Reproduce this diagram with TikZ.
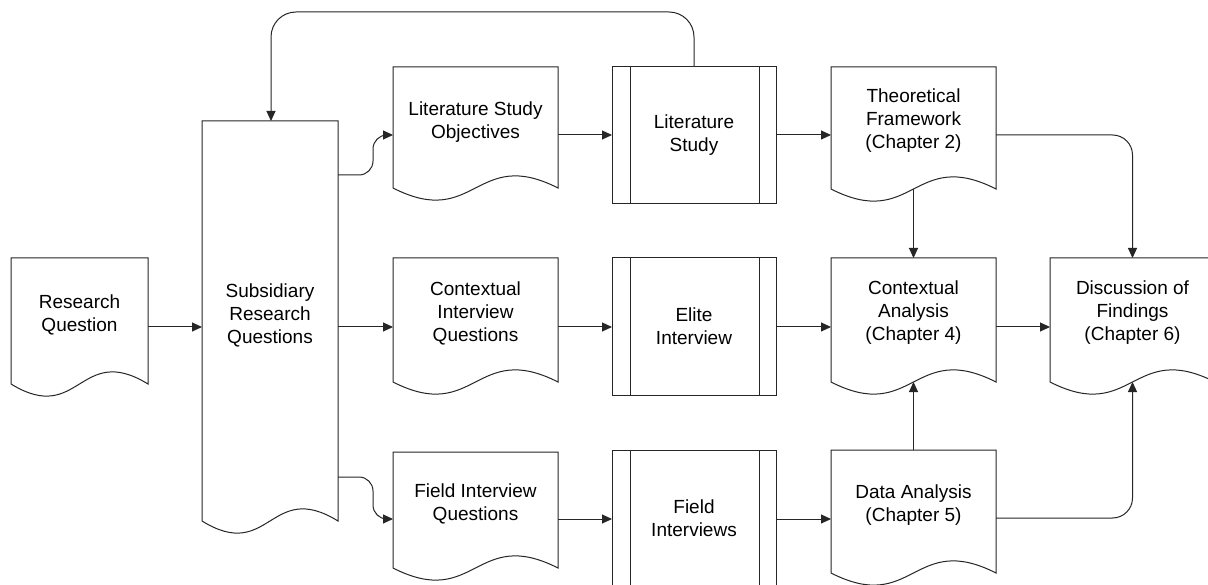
\documentclass[tikz,border=0pt]{standalone}
\usepackage{fontspec}
\setmainfont{Liberation Sans}
\usetikzlibrary{arrows.meta,calc}
\tikzset{
  ln/.style={draw=black!85, line width=1pt},
  arr/.style={ln, -{Triangle[length=10pt,width=9pt]}},
  frame/.style={draw=none, inner sep=0pt, outer sep=0pt, anchor=north west},
  txt/.style={align=center, font=\fontsize{19}{23}\selectfont, inner sep=0pt, text=black},
}
% #1 name, #2 x0, #3 y0, #4 x1, #5 y bottom of sides, #6 text centre y, #7 text
\newcommand\DocShape[7]{%
  \node[frame, minimum width={#4pt-#2pt}, minimum height={#5pt-#3pt}] (#1) at (#2,#3) {};
  \draw[ln] (#1.south west) -- (#1.north west) -- (#1.north east) -- (#1.south east)
    .. controls ($(#1.south)+(0,-42)$) and ($(#1.south)+(0,42)$) .. (#1.south west) -- cycle;
  \node[txt] (#1-t) at (#1.north |- 0,#6) {#7};
}
% #1 name, #2 x0, #3 y0, #4 x1, #5 y1, #6 text
\newcommand\ProcShape[6]{%
  \node[frame, minimum width={#4pt-#2pt}, minimum height={#5pt-#3pt}] (#1) at (#2,#3) {};
  \draw[ln] (#1.north west) rectangle (#1.south east);
  \draw[ln] ([xshift=18pt]#1.north west) -- ([xshift=18pt]#1.south west);
  \draw[ln] ([xshift=-17pt]#1.north east) -- ([xshift=-17pt]#1.south east);
  \node[txt] (#1-t) at (#1.center) {#6};
}
\begin{document}
\begin{tikzpicture}[x=1pt,y=-1pt]
\path[use as bounding box] (0,0) rectangle (1208,585);
\fill[white] (0,0) rectangle (1208,585);
\clip (0,0) rectangle (1208,585);

\DocShape{rq}{11}{258}{148}{384}{315}{Research\\Question}
\DocShape{sub}{202}{121}{338}{521}{315}{Subsidiary\\Research\\Questions}
\DocShape{lso}{393}{67}{558}{188}{122}{Literature Study\\Objectives}
\DocShape{ciq}{393}{258}{558}{382}{313}{Contextual\\Interview\\Questions}
\DocShape{fiq}{393}{452}{558}{568}{504}{Field Interview\\Questions}
\ProcShape{ls}{612}{67}{776}{204}{Literature\\Study}
\ProcShape{ei}{612}{258}{776}{395}{Elite\\Interview}
\ProcShape{fi}{612}{450}{776}{587}{Field\\Interviews}
\DocShape{tf}{831}{67}{996}{189}{121}{Theoretical\\Framework\\(Chapter 2)}
\DocShape{ca}{831}{258}{996}{382}{313}{Contextual\\Analysis\\(Chapter 4)}
\DocShape{da}{831}{450}{996}{573}{505}{Data Analysis\\(Chapter 5)}
\DocShape{disc}{1050}{258}{1215}{382}{313}{Discussion of\\Findings\\(Chapter 6)}

% connectors
\draw[arr] (rq.east |- 0,327) -- (sub.west |- 0,327);
\draw[arr] (sub.east |- 0,327) -- (ciq.west |- 0,327);
\draw[arr, rounded corners=14pt] (sub.east |- 0,175) -| (373,135) -- (lso.west |- 0,135);
\draw[arr, rounded corners=14pt] (sub.east |- 0,477) -| (373,519) -- (fiq.west |- 0,519);
\draw[arr] (lso.east |- 0,135) -- (ls.west |- 0,135);
\draw[arr] (ciq.east |- 0,327) -- (ei.west |- 0,327);
\draw[arr] (fiq.east |- 0,519) -- (fi.west |- 0,519);
\draw[arr] (ls.east |- 0,135) -- (tf.west |- 0,135);
\draw[arr] (ei.east |- 0,327) -- (ca.west |- 0,327);
\draw[arr] (fi.east |- 0,519) -- (da.west |- 0,519);
\draw[arr] (ca.east |- 0,327) -- (disc.west |- 0,327);
\draw[arr] (tf.south) -- (ca.north);
\draw[arr] (da.north) -- (ca.south);
\draw[arr, rounded corners=20pt] (tf.east |- 0,135) -| (disc.north);
\draw[arr, rounded corners=20pt] (da.east |- 0,518) -| (disc.south);
\coordinate (loopL) at (271,12);
\draw[arr, rounded corners=25pt] (ls.north) |- (loopL) -- (loopL |- sub.north);
\end{tikzpicture}
\end{document}
